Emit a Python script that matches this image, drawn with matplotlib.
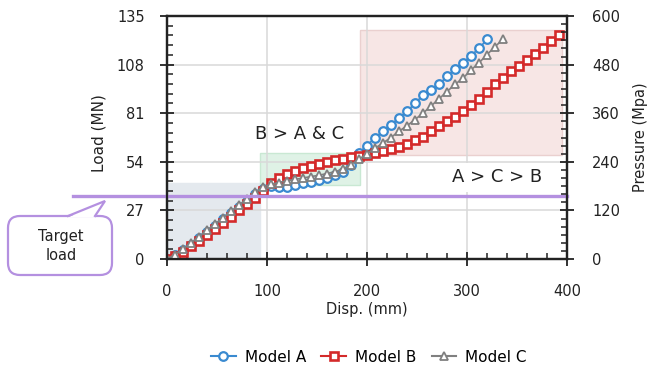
import matplotlib
matplotlib.use("Agg")
import matplotlib.pyplot as plt
from matplotlib.lines import Line2D
from matplotlib.patches import FancyBboxPatch, Polygon, Rectangle
from matplotlib.ticker import MultipleLocator

plt.rcParams['font.family'] = ['DejaVu Sans']

# displacement samples (mm), shared by the three models
disp = [0, 8, 16, 24, 32, 40, 48, 56, 64, 72, 80, 88, 96, 104, 112, 120, 128,
        136, 144, 152, 160, 168, 176, 184, 192, 200, 208, 216, 224, 232, 240,
        248, 256, 264, 272, 280, 288, 296, 304, 312, 320, 328, 336, 344, 352,
        360, 368, 376, 384, 392]

load_a = [0, 2, 5, 8, 11.5, 15, 18.5, 22, 25.5, 29, 32.5, 36, 39, 40.5, 40, 40,
          41, 42, 43, 44, 45, 46.5, 48.5, 52.5, 59, 63, 67.5, 71, 74.5, 78.5,
          82, 86.5, 91, 94, 97, 101.5, 105.5, 109, 113, 117, 122]
load_b = [0, 1.5, 4, 7, 10, 13.5, 16.5, 20, 23.5, 27, 30.5, 34, 38, 42, 45,
          47.5, 49, 50.5, 51.8, 53, 54, 55, 55.8, 56.6, 57.2, 58, 58.8, 60, 61,
          62.5, 64, 66, 68, 71, 74, 76.5, 79, 82, 85.5, 89, 93, 97, 100.5, 104.5,
          107.5, 110.5, 114, 117.5, 121, 124.5]
load_c = [0, 2.5, 5.5, 9, 12.5, 16, 19.5, 23, 26.5, 30, 33.5, 37, 40, 41.5,
          42.5, 43.5, 44.2, 45, 45.8, 46.5, 47.5, 48.5, 50, 52.5, 55.5, 58.5,
          61.5, 64.5, 67.5, 71, 74, 77.5, 81, 85, 89, 93, 97, 100.5, 105, 109,
          113.5, 118, 122]

x_a = disp[:len(load_a)]
x_b = disp[:len(load_b)]
x_c = disp[:len(load_c)]

target_load = 35.2

# shaded comparison zones: (x0, x1, y0, y1, face, edge)
zones = [
    (0, 93, 0, 42, '#e4e9ee', '#e4e9ee'),
    (93, 193, 41, 59, '#dff2e6', '#c9e8d3'),
    (193, 395, 58, 127, '#f7e6e5', '#ead0cf'),
]

blue = '#3a8ad0'
red = '#d42a2a'
gray = '#808080'
purple = '#b490e0'
ink = '#222222'

fig = plt.figure(figsize=(6.48, 3.74), dpi=100)
ax = fig.add_axes([167 / 648, 1 - 259 / 374, 400 / 648, 243 / 374])
ax2 = ax.twinx()

for x0, x1, y0, y1, fc, ec in zones:
    ax.add_patch(Rectangle((x0, y0), x1 - x0, y1 - y0, facecolor=fc,
                           edgecolor=ec, linewidth=1, zorder=1))

ax.plot(x_a, load_a, color=blue, lw=1.2, marker='o', ms=6.2, mfc='white',
        mec=blue, mew=1.6, zorder=3)
ax.plot(x_b, load_b, color=red, lw=1.2, marker='s', ms=6.0, mfc='white',
        mec=red, mew=1.9, zorder=3)
ax.plot(x_c, load_c, color=gray, lw=1.2, marker='^', ms=6.0, mfc='white',
        mec=gray, mew=1.3, zorder=4)

# target load line runs out past the left spine
ax.plot([-94, 400], [target_load, target_load], color=purple, lw=2.4,
        clip_on=False, zorder=5)

ax.text(133, 69.5, 'B > A & C', fontsize=13, ha='center', va='center',
        color=ink)
ax.text(330, 45.5, 'A > C > B', fontsize=13, ha='center', va='center',
        color=ink, zorder=6,
        bbox=dict(boxstyle='square,pad=0.3', fc='white', ec='none'))

ax.set_xlim(0, 400)
ax.set_ylim(0, 135)
ax2.set_ylim(0, 600)
ax.set_xticks([0, 100, 200, 300, 400])
ax.set_yticks([0, 27, 54, 81, 108, 135])
ax2.set_yticks([0, 120, 240, 360, 480, 600])
ax.xaxis.set_minor_locator(MultipleLocator(20))
ax.yaxis.set_minor_locator(MultipleLocator(5.4))
ax2.yaxis.set_minor_locator(MultipleLocator(20))

ax.grid(True, which='major', color='#d9d9d9', lw=1.1)
ax.tick_params(axis='both', which='major', direction='inout', length=10,
               width=1.3, labelsize=10.5, colors=ink)
ax.tick_params(axis='x', which='major', pad=13)
ax.tick_params(axis='y', which='major', pad=11)
ax.tick_params(which='minor', direction='in', length=4, width=1.1,
               colors=ink)
ax2.tick_params(axis='y', which='major', direction='inout', length=10,
                width=1.3, labelsize=10.5, pad=13, colors=ink)
ax2.tick_params(axis='y', which='minor', direction='in', length=4,
                width=1.1, colors=ink)

for a in (ax, ax2):
    for s in a.spines.values():
        s.set_color(ink)
        s.set_linewidth(1.6)

ax.set_xlabel('Disp. (mm)', fontsize=10.5, color=ink)
ax.set_ylabel('Load (MN)', fontsize=11, color=ink)
ax2.set_ylabel('Pressure (Mpa)', fontsize=10.5, color=ink)
ax.xaxis.set_label_coords(0.5, -0.175)
ax.yaxis.set_label_coords(-0.152, 0.52)
ax2.yaxis.set_label_coords(1.166, 0.5)

# callout box for the target line, drawn in pixel space
over = fig.add_axes([0, 0, 1, 1], zorder=10)
over.set_xlim(0, 648)
over.set_ylim(374, 0)
over.axis('off')
over.patch.set_alpha(0)
over.add_patch(FancyBboxPatch((8, 216), 104, 59,
                              boxstyle='round,pad=0,rounding_size=12',
                              fc='white', ec=purple, lw=1.6))
over.add_patch(Polygon([(68, 217.5), (105, 201), (95, 217.5)], closed=True,
                       fc='white', ec='none'))
over.plot([68, 105, 95], [216, 201, 216], color=purple, lw=1.6,
          solid_joinstyle='miter')
over.text(61, 246, 'Target\nload', fontsize=10.5, ha='center', va='center',
          color=ink, linespacing=1.35)

handles = [
    Line2D([], [], color=blue, lw=1.5, marker='o', ms=6.2, mfc='white',
           mec=blue, mew=1.6),
    Line2D([], [], color=red, lw=1.5, marker='s', ms=6.0, mfc='white',
           mec=red, mew=1.9),
    Line2D([], [], color=gray, lw=1.5, marker='^', ms=6.0, mfc='white',
           mec=gray, mew=1.3),
]
fig.legend(handles, ['Model A', 'Model B', 'Model C'], loc='center',
           bbox_to_anchor=(369 / 648, 1 - 357 / 374), ncol=3, frameon=False,
           fontsize=11, handlelength=1.6, handletextpad=0.6,
           columnspacing=1.0)

fig.savefig('out.png', dpi=100)
